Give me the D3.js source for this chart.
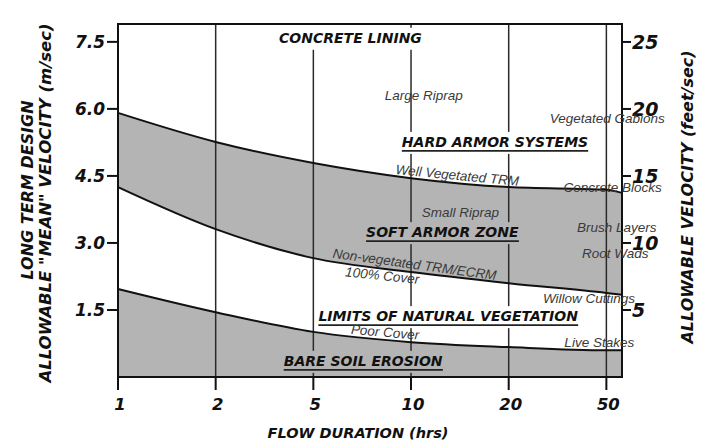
<!DOCTYPE html>
<html>
<head>
<meta charset="utf-8">
<script src="https://cdn.jsdelivr.net/npm/d3@7"></script>
<style>
  body { margin: 0; background: #fff; }
  svg { display: block; }
  .bold { font-family: "DejaVu Sans", sans-serif; font-weight: bold; font-style: oblique; fill: #111; }
  .note { font-family: "Liberation Sans", Arial, sans-serif; font-style: italic; fill: #3a3a3a; font-size: 13.5px; }
</style>
</head>
<body>
<div id="app"></div>
<script>
// flow duration categories (hrs) - drawn equally spaced like the original
const durations = [1, 2, 5, 10, 20, 50]
// velocity limits (m/s) at each duration, last value = right frame
const hardArmorLimit  = [5.91, 5.26, 4.79, 4.45, 4.25, 4.19, 4.12]
const softArmorLimit  = [4.25, 3.31, 2.66, 2.35, 2.10, 1.88, 1.84]
const vegetationLimit = [1.97, 1.45, 1.01, 0.78, 0.67, 0.60, 0.60]

const leftTicks  = [1.5, 3.0, 4.5, 6.0, 7.5]   // m/sec
const rightTicks = [5, 10, 15, 20, 25]         // feet/sec

// zone titles: [text, duration position, m/s baseline, underlined, background]
const zones = [
  ['CONCRETE LINING', 2.38, 7.48, false, '#fff'],
  ['HARD ARMOR SYSTEMS', 3.86, 5.15, true, '#fff'],
  ['SOFT ARMOR ZONE', 3.32, 3.13, true, '#b4b4b4'],
  ['LIMITS OF NATURAL VEGETATION', 3.38, 1.25, true, '#fff'],
  ['BARE SOIL EROSION', 2.51, 0.25, true, '#b4b4b4']
]
// lining notes: [text, duration position, m/s baseline, anchor, angle]
const notes = [
  ['Large Riprap', 2.73, 6.20, 'start', 0],
  ['Vegetated Gabions', 4.42, 5.69, 'start', 0],
  ['Well Vegetated TRM', 3.47, 4.41, 'middle', 5.5],
  ['Concrete Blocks', 4.56, 4.14, 'start', 0],
  ['Small Riprap', 3.11, 3.58, 'start', 0],
  ['Brush Layers', 4.70, 3.25, 'start', 0],
  ['Root Wads', 4.75, 2.66, 'start', 0],
  ['Non-vegetated TRM/ECRM', 3.03, 2.42, 'middle', 7.8],
  ['100% Cover', 2.70, 2.17, 'middle', 6],
  ['Willow Cuttings', 4.35, 1.66, 'start', 0],
  ['Poor Cover', 2.73, 0.90, 'middle', 5],
  ['Live Stakes', 4.57, 0.67, 'start', 0]
]

const W = 706, H = 441
const gray = '#b4b4b4'
const frameIdx = durations.length - 1 + 0.16

const x = d3.scaleLinear().domain([0, frameIdx]).range([118, 622])
const y = d3.scaleLinear().domain([0, 7.9]).range([377, 24])
const yFt = d3.scaleLinear().domain([0, 26.34]).range([377, 24])

const xs = hardArmorLimit.map((d, i) => i < durations.length ? i : frameIdx)

const svg = d3.select('#app').append('svg')
    .attr('width', W)
    .attr('height', H)

// shaded zones
const bandArea = d3.area()
    .x((d, i) => x(xs[i]))
    .y0((d, i) => y(softArmorLimit[i]))
    .y1(d => y(d))
    .curve(d3.curveMonotoneX)
svg.append('path')
    .attr('d', bandArea(hardArmorLimit))
    .attr('fill', gray)

const bottomArea = d3.area()
    .x((d, i) => x(xs[i]))
    .y0(y(0))
    .y1(d => y(d))
    .curve(d3.curveMonotoneX)
svg.append('path')
    .attr('d', bottomArea(vegetationLimit))
    .attr('fill', gray)

// vertical duration lines
svg.selectAll('.vline')
    .data(durations.slice(1))
    .join('line')
    .attr('x1', (d, i) => x(i + 1))
    .attr('x2', (d, i) => x(i + 1))
    .attr('y1', (d, i) => i === 1 ? y(7.37) : y.range()[1])
    .attr('y2', y(0))
    .attr('stroke', '#2a2a2a')
    .attr('stroke-width', 1.5)

// limit curves
const line = d3.line()
    .x((d, i) => x(xs[i]))
    .y(d => y(d))
    .curve(d3.curveMonotoneX)
svg.selectAll('.curve')
    .data([hardArmorLimit, softArmorLimit, vegetationLimit])
    .join('path')
    .attr('d', line)
    .attr('fill', 'none')
    .attr('stroke', '#111')
    .attr('stroke-width', 2)

// frame
svg.append('rect')
    .attr('x', x(0)).attr('y', y.range()[1])
    .attr('width', x(frameIdx) - x(0))
    .attr('height', y(0) - y.range()[1])
    .attr('fill', 'none')
    .attr('stroke', '#111')
    .attr('stroke-width', 2)

// left axis
svg.selectAll('.ltick')
    .data(leftTicks)
    .join('line')
    .attr('x1', x(0) - 11).attr('x2', x(0))
    .attr('y1', d => y(d)).attr('y2', d => y(d))
    .attr('stroke', '#111').attr('stroke-width', 2)
svg.selectAll('.llab')
    .data(leftTicks)
    .join('text')
    .attr('class', 'bold')
    .attr('x', x(0) - 13)
    .attr('y', d => y(d))
    .attr('dy', '0.36em')
    .attr('text-anchor', 'end')
    .style('font-size', '17px')
    .text(d => d.toFixed(1))

// right axis (feet/sec)
svg.selectAll('.rtick')
    .data(rightTicks)
    .join('line')
    .attr('x1', x(frameIdx)).attr('x2', x(frameIdx) + 9)
    .attr('y1', d => yFt(d)).attr('y2', d => yFt(d))
    .attr('stroke', '#111').attr('stroke-width', 2)
svg.selectAll('.rlab')
    .data(rightTicks)
    .join('text')
    .attr('class', 'bold')
    .attr('x', x(frameIdx) + 10)
    .attr('y', d => yFt(d))
    .attr('dy', '0.38em')
    .style('font-size', '19px')
    .text(d => d)

// bottom axis
svg.selectAll('.btick')
    .data(durations)
    .join('line')
    .attr('x1', (d, i) => x(i)).attr('x2', (d, i) => x(i))
    .attr('y1', y(0)).attr('y2', y(0) + 13)
    .attr('stroke', '#111').attr('stroke-width', 2)
svg.selectAll('.blab')
    .data(durations)
    .join('text')
    .attr('class', 'bold')
    .attr('x', (d, i) => x(i) + 2)
    .attr('y', 410)
    .attr('text-anchor', 'middle')
    .style('font-size', '16.5px')
    .text(d => d)

// axis titles
svg.append('text').attr('class', 'bold')
    .attr('transform', 'translate(33,190) rotate(-90)')
    .attr('text-anchor', 'middle').style('font-size', '16px')
    .text('LONG TERM DESIGN')
svg.append('text').attr('class', 'bold')
    .attr('transform', 'translate(51,203) rotate(-90)')
    .attr('text-anchor', 'middle').style('font-size', '16.5px')
    .text('ALLOWABLE "MEAN" VELOCITY (m/sec)')
svg.append('text').attr('class', 'bold')
    .attr('transform', 'translate(693,197) rotate(-90)')
    .attr('text-anchor', 'middle').style('font-size', '16px')
    .text('ALLOWABLE  VELOCITY  (feet/sec)')
svg.append('text').attr('class', 'bold')
    .attr('x', 358).attr('y', 438)
    .attr('text-anchor', 'middle').style('font-size', '14.5px')
    .text('FLOW DURATION  (hrs)')

// zone titles with a knock-out box so the duration lines stop at them
zones.forEach(([label, xi, v, under, bg]) => {
  const g = svg.append('g')
  const t = g.append('text')
      .attr('class', 'bold')
      .attr('x', x(xi)).attr('y', y(v))
      .attr('text-anchor', 'middle')
      .style('font-size', '14px')
      .text(label)
  const b = t.node().getBBox()
  g.insert('rect', 'text')
      .attr('x', b.x - 3).attr('y', b.y - 2)
      .attr('width', b.width + 6).attr('height', b.height + 6)
      .attr('fill', bg)
  if (under) {
    g.append('line')
        .attr('x1', b.x).attr('x2', b.x + b.width)
        .attr('y1', y(v) + 4).attr('y2', y(v) + 4)
        .attr('stroke', '#222').attr('stroke-width', 1.6)
  }
})

// lining type notes
svg.selectAll('.note')
    .data(notes)
    .join('text')
    .attr('class', 'note')
    .attr('text-anchor', d => d[3])
    .attr('transform', d => `translate(${x(d[1])},${y(d[2])}) rotate(${d[4]})`)
    .text(d => d[0])
</script>
</body>
</html>
